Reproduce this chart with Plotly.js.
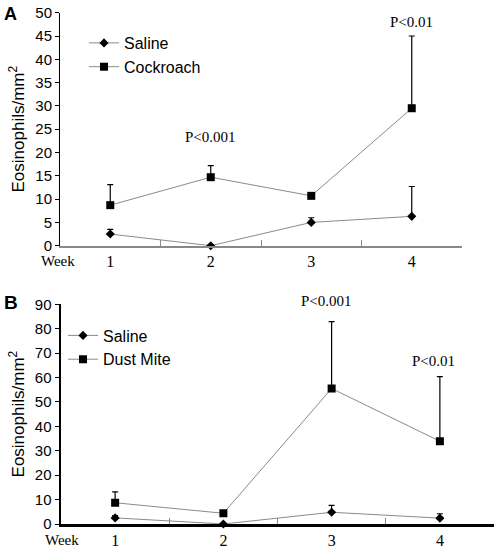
<!DOCTYPE html>
<html>
<head>
<meta charset="utf-8">
<script src="https://cdn.plot.ly/plotly-3.0.1.min.js"></script>
<style>
  html, body { margin: 0; padding: 0; background: #fff; }
  #chart { width: 494px; height: 548px; }
</style>
</head>
<body>
<div id="chart"></div>
<script>
// ---- Data ----
var weeks = ['1', '2', '3', '4'];

// Panel A
var salineA = [2.5, 0, 5.0, 6.3];
var salineAErr = [1.0, 0, 1.0, 6.4];
var cockroach = [8.7, 14.7, 10.7, 29.5];
var cockroachErr = [4.4, 2.5, 0, 15.5];

// Panel B
var salineB = [2.5, 0, 4.8, 2.4];
var salineBErr = [0.9, 0, 2.8, 1.8];
var dustMite = [8.7, 4.4, 55.5, 33.9];
var dustMiteErr = [4.5, 0, 27.4, 26.5];

var yTickA = [0, 5, 10, 15, 20, 25, 30, 35, 40, 45, 50];
var yTickB = [0, 10, 20, 30, 40, 50, 60, 70, 80, 90];

var pLabelsA = [{week: '2', y: 23.4, text: 'P<0.001'}, {week: '4', y: 47.9, text: 'P<0.01'}];
var pLabelsB = [{week: '3', y: 91.5, text: 'P<0.001', shift: -5}, {week: '4', y: 66.8, text: 'P<0.01', shift: -6}];

// ---- Layout geometry ----
var W = 494, H = 548;
var domA = {x: [60 / W, 462 / W], y: [1 - 245.7 / H, 1 - 12.7 / H], range: [0, 50]};
var domB = {x: [61 / W, 1], y: [1 - 524 / H, 1 - 304.3 / H], range: [0, 90]};

// ---- Styles ----
var sans = 'Liberation Sans, Arial, sans-serif';
var serif = 'Liberation Serif, Times New Roman, serif';
var lineGray = '#8a8a8a';

function errBar(arr) {
  return {type: 'data', symmetric: false, array: arr,
          arrayminus: arr.map(function () { return 0; }),
          color: '#000', thickness: 1.2, width: 3};
}

function series(name, y, err, symbol, size, xa, ya, legend) {
  return {
    type: 'scatter', mode: 'lines+markers', name: name,
    x: weeks, y: y, xaxis: xa, yaxis: ya, legend: legend,
    line: {color: lineGray, width: 1},
    marker: {symbol: symbol, size: size, color: '#000'},
    error_y: errBar(err),
    cliponaxis: false
  };
}

var data = [
  series('Saline', salineA, salineAErr, 'diamond', 7, 'x', 'y', 'legend'),
  series('Cockroach', cockroach, cockroachErr, 'square', 8, 'x', 'y', 'legend'),
  series('Saline', salineB, salineBErr, 'diamond', 7, 'x2', 'y2', 'legend2'),
  series('Dust Mite', dustMite, dustMiteErr, 'square', 8, 'x2', 'y2', 'legend2')
];

function xAxis(domain, anchor, lineColor, lineWidth) {
  return {
    domain: domain, anchor: anchor, type: 'category',
    categoryorder: 'array', categoryarray: weeks,
    range: [-0.5, 3.5], tickson: 'boundaries',
    ticks: 'inside', ticklen: 6, tickcolor: '#888', tickwidth: 1,
    showline: true, linecolor: lineColor, linewidth: lineWidth,
    showgrid: false, zeroline: false, fixedrange: true,
    tickfont: {family: serif, size: 16, color: '#000'}
  };
}

function yAxis(domain, anchor, range, ticks, lineWidth) {
  return {
    domain: domain, anchor: anchor, range: range,
    tickvals: ticks, ticktext: ticks.map(String),
    ticks: 'outside', ticklen: 4, tickcolor: '#000', tickwidth: 1,
    showline: true, linecolor: '#000', linewidth: lineWidth,
    showgrid: false, zeroline: false, fixedrange: true,
    tickfont: {family: sans, size: 15, color: '#000'},
    title: {text: 'Eosinophils/mm<sup>2</sup>', standoff: 6,
            font: {family: sans, size: 17, color: '#000'}}
  };
}

// value -> paper y for a panel (so labels above the axis range still show)
function paperY(dom, v) {
  return dom.y[0] + (v - dom.range[0]) / (dom.range[1] - dom.range[0]) * (dom.y[1] - dom.y[0]);
}

var annotations = [];
pLabelsA.forEach(function (p) {
  annotations.push({xref: 'x', yref: 'paper', x: weeks.indexOf(p.week), y: paperY(domA, p.y), text: p.text,
    showarrow: false, xanchor: 'center', yanchor: 'middle', font: {family: serif, size: 15, color: '#000'}});
});
pLabelsB.forEach(function (p) {
  annotations.push({xref: 'x2', yref: 'paper', x: weeks.indexOf(p.week), y: paperY(domB, p.y), text: p.text,
    showarrow: false, xshift: p.shift, xanchor: 'center', yanchor: 'middle',
    font: {family: serif, size: 15, color: '#000'}});
});
annotations.push(
  {xref: 'paper', yref: 'paper', x: 10.5 / W, y: 1 - 14.5 / H, text: '<b>A</b>', showarrow: false,
   xanchor: 'center', yanchor: 'middle', font: {family: sans, size: 18, color: '#000'}},
  {xref: 'paper', yref: 'paper', x: 10.5 / W, y: 1 - 302 / H, text: '<b>B</b>', showarrow: false,
   xanchor: 'center', yanchor: 'middle', font: {family: sans, size: 19, color: '#000'}},
  {xref: 'paper', yref: 'paper', x: 58 / W, y: 1 - 261 / H, text: 'Week', showarrow: false,
   xanchor: 'center', yanchor: 'middle', font: {family: serif, size: 15, color: '#000'}},
  {xref: 'paper', yref: 'paper', x: 62 / W, y: 1 - 540 / H, text: 'Week', showarrow: false,
   xanchor: 'center', yanchor: 'middle', font: {family: serif, size: 15, color: '#000'}}
);

var layout = {
  width: W, height: H,
  margin: {l: 0, r: 0, t: 0, b: 0},
  paper_bgcolor: '#fff', plot_bgcolor: '#fff',
  showlegend: true,
  xaxis: xAxis(domA.x, 'y', '#888', 2),
  yaxis: yAxis(domA.y, 'x', domA.range, yTickA, 1),
  xaxis2: xAxis(domB.x, 'y2', '#000', 3),
  yaxis2: yAxis(domB.y, 'x2', domB.range, yTickB, 2.5),
  legend: {x: 84 / W, y: 1 - 26 / H, xanchor: 'left', yanchor: 'top',
           bgcolor: 'rgba(0,0,0,0)', font: {family: sans, size: 16, color: '#000'}},
  legend2: {x: 63 / W, y: 1 - 318.5 / H, xanchor: 'left', yanchor: 'top',
            bgcolor: 'rgba(0,0,0,0)', font: {family: sans, size: 16, color: '#000'}},
  annotations: annotations
};

Plotly.newPlot('chart', data, layout, {displayModeBar: false, staticPlot: true});
</script>
</body>
</html>
